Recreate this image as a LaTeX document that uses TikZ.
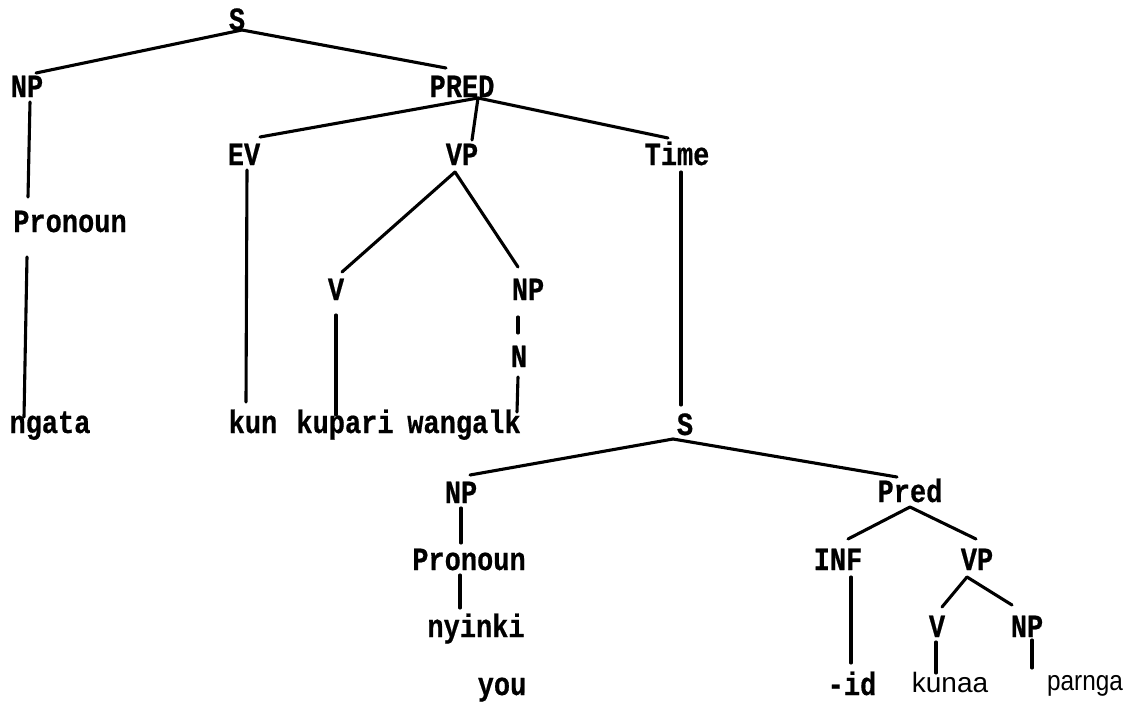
\documentclass[tikz,border=0pt]{standalone}
\usepackage{fontspec}
\usepackage{graphicx}
\newfontfamily\typew[FakeBold=0.6]{Liberation Mono Bold}
\newfontfamily\handfont{Liberation Sans}
\newcommand{\tall}[1]{\scalebox{1}[1.2]{#1}}
\begin{document}
\begin{tikzpicture}[x=1pt,y=-1pt,
  lbl/.style={anchor=base,inner sep=0pt,font=\typew\fontsize{27}{30}\selectfont},
  hand/.style={anchor=base,inner sep=0pt,font=\handfont\fontsize{28}{30}\selectfont},
  branch/.style={line width=3.1pt,line cap=round}]
\useasboundingbox (0,0) rectangle (1132,710);
% labels
\node[lbl] (S0) at (237,30) {\tall{S}};
\node[lbl] (NP1) at (27,97) {\tall{NP}};
\node[lbl] (PRED) at (462,97) {\tall{PRED}};
\node[lbl] (EV) at (244,165) {\tall{EV}};
\node[lbl] (VP1) at (462,165) {\tall{VP}};
\node[lbl] (Time) at (677,165) {\tall{Time}};
\node[lbl] (Pron1) at (70,232) {\tall{Pronoun}};
\node[lbl] (V1) at (336,300) {\tall{V}};
\node[lbl] (NP2) at (528,300) {\tall{NP}};
\node[lbl] (N1) at (519,367) {\tall{N}};
\node[lbl] (ngata) at (50,433) {\tall{ngata}};
\node[lbl] (kun) at (253,433) {\tall{kun}};
\node[lbl] (kupari) at (345,433) {\tall{kupari}};
\node[lbl] (wangalk) at (464,433) {\tall{wangalk}};
\node[lbl] (S1) at (685,435) {\tall{S}};
\node[lbl] (NP3) at (461,503) {\tall{NP}};
\node[lbl] (Pred) at (910,502) {\tall{Pred}};
\node[lbl] (Pron2) at (469,570) {\tall{Pronoun}};
\node[lbl] (INF) at (838,570) {\tall{INF}};
\node[lbl] (VP2) at (977,570) {\tall{VP}};
\node[lbl] (nyinki) at (476,637) {\tall{nyinki}};
\node[lbl] (V2) at (937,637) {\tall{V}};
\node[lbl] (NP4) at (1027,637) {\tall{NP}};
\node[lbl] (you) at (502,695) {\tall{you}};
\node[lbl] (id) at (852,695) {\tall{-id}};
\node[hand] (kunaa) at (950,692) {kunaa};
\node[hand] (parnga) at (1085,690) {\scalebox{0.87}[1]{parnga}};
% connector end points
\coordinate (S0b) at (242,30);
\coordinate (NP1t) at (36,73);
\coordinate (PREDt) at (446,68);
\coordinate (NP1b) at (30,102);
\coordinate (Pron1t) at (28,197);
\coordinate (Pron1b) at (27,257);
\coordinate (ngatat) at (24,417);
\coordinate (PREDb) at (478,98);
\coordinate (EVt) at (260,137);
\coordinate (VP1t) at (472,140);
\coordinate (Timet) at (668,138);
\coordinate (EVb) at (247,170);
\coordinate (kunt) at (246,402);
\coordinate (VP1b) at (455,172);
\coordinate (V1t) at (342,272);
\coordinate (NP2t) at (518,267);
\coordinate (V1b) at (336,315);
\coordinate (kuparit) at (336,415);
\coordinate (NP2b) at (518,317);
\coordinate (N1t) at (518,333);
\coordinate (N1b) at (518,377);
\coordinate (wangalkt) at (517,412);
\coordinate (Timeb) at (681,172);
\coordinate (S1t) at (681,405);
\coordinate (S1b) at (673,439);
\coordinate (NP3t) at (470,475);
\coordinate (Predt) at (897,477);
\coordinate (NP3b) at (461,508);
\coordinate (Pron2t) at (461,543);
\coordinate (Pron2b) at (460,575);
\coordinate (nyinkit) at (460,608);
\coordinate (Predb) at (910,507);
\coordinate (INFt) at (848,539);
\coordinate (VP2t) at (976,539);
\coordinate (INFb) at (851,577);
\coordinate (idt) at (851,663);
\coordinate (VP2b) at (967,577);
\coordinate (V2t) at (942,607);
\coordinate (NP4t) at (1012,605);
\coordinate (V2b) at (936,642);
\coordinate (kunaat) at (936,673);
\coordinate (NP4b) at (1032,640);
\coordinate (parngat) at (1032,668);
% connectors
\draw[branch] (S0b) -- (NP1t);
\draw[branch] (S0b) -- (PREDt);
\draw[branch] (NP1b) -- (Pron1t);
\draw[branch] (Pron1b) -- (ngatat);
\draw[branch] (PREDb) -- (EVt);
\draw[branch] (PREDb) -- (VP1t);
\draw[branch] (PREDb) -- (Timet);
\draw[branch] (EVb) -- (kunt);
\draw[branch] (VP1b) -- (V1t);
\draw[branch] (VP1b) -- (NP2t);
\draw[branch] (V1b) -- (kuparit);
\draw[branch] (NP2b) -- (N1t);
\draw[branch] (N1b) -- (wangalkt);
\draw[branch] (Timeb) -- (S1t);
\draw[branch] (S1b) -- (NP3t);
\draw[branch] (S1b) -- (Predt);
\draw[branch] (NP3b) -- (Pron2t);
\draw[branch] (Pron2b) -- (nyinkit);
\draw[branch] (Predb) -- (INFt);
\draw[branch] (Predb) -- (VP2t);
\draw[branch] (INFb) -- (idt);
\draw[branch] (VP2b) -- (V2t);
\draw[branch] (VP2b) -- (NP4t);
\draw[branch] (V2b) -- (kunaat);
\draw[branch] (NP4b) -- (parngat);
\end{tikzpicture}
\end{document}
